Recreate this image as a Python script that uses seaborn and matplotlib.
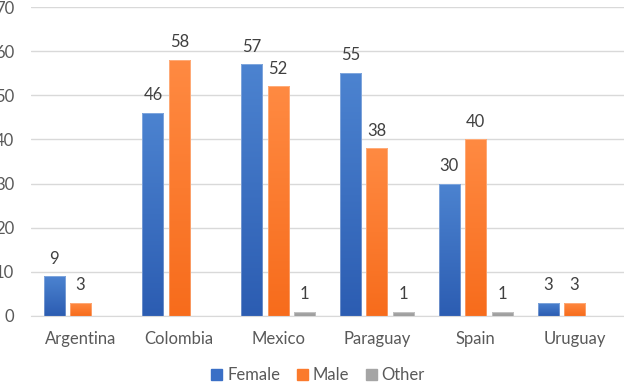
import pandas as pd
import numpy as np
import matplotlib.pyplot as plt
import matplotlib.colors as mcolors
import seaborn as sns

countries = ['Argentina', 'Colombia', 'Mexico', 'Paraguay', 'Spain', 'Uruguay']
female = [9, 46, 57, 55, 30, 3]
male = [3, 58, 52, 38, 40, 3]
other = [0, 0, 1, 1, 1, 0]
genders = ['Female', 'Male', 'Other']

df = pd.DataFrame({
    'country': countries * 3,
    'gender': np.repeat(genders, len(countries)),
    'count': female + male + other,
})

sns.set_style('white')
plt.rcParams['font.family'] = ['Lato', 'DejaVu Sans']

colors = {'Female': '#3a6fc6', 'Male': '#fb7a2c', 'Other': '#a5a5a5'}
# top / bottom colours for the gradient fill
grad = {'Female': ('#4c83d0', '#2c5db2'),
        'Male': ('#ff8a42', '#f76c1c'),
        'Other': ('#b0b0b0', '#9a9a9a')}
text_col = '#595959'

fig = plt.figure(figsize=(6.24, 3.88), dpi=100)
ax = fig.add_axes([31/624, 1 - 316/388, 1 - 31/624, (316 - 7)/388])

sns.barplot(data=df, x='country', y='count', hue='gender', palette=colors,
            width=0.8, gap=0.2, ax=ax, legend=False, saturation=1)

ax.set_ylim(0, 70)
ax.set_xlim(-0.5, 5.5)

# gradient fill on every bar
for g, cont in zip(genders, ax.containers):
    cmap = mcolors.LinearSegmentedColormap.from_list(g, [grad[g][1], grad[g][0]])
    for p in cont.patches:
        h = p.get_height()
        if h <= 0:
            continue
        x0 = p.get_x()
        w = p.get_width()
        p.set_facecolor('none')
        p.set_edgecolor((1, 1, 1, 0.35))
        p.set_linewidth(0.6)
        img = ax.imshow(np.linspace(0, 1, 100).reshape(-1, 1) * (h / 70),
                        extent=[x0, x0 + w, 0, h], origin='lower', aspect='auto',
                        cmap=cmap, vmin=0, vmax=h / 70, zorder=p.get_zorder() - 0.1)
        img.set_clip_path(p)

for cont in ax.containers:
    labels = [str(int(v)) if v > 0 else '' for v in cont.datavalues]
    ax.bar_label(cont, labels=labels, padding=7, fontsize=12, color='#404040')

ax.set_ylim(0, 70)
ax.set_xlim(-0.5, 5.5)
ax.set_yticks(range(0, 71, 10))
ax.yaxis.grid(True, color='#d9d9d9', linewidth=1)
ax.set_axisbelow(True)
for s in ['top', 'right', 'left']:
    ax.spines[s].set_visible(False)
ax.spines['bottom'].set_color('#d9d9d9')
ax.tick_params(axis='both', length=0, labelsize=12, colors=text_col)
ax.tick_params(axis='y', pad=12)
ax.tick_params(axis='x', pad=11)
ax.set_xlabel('')
ax.set_ylabel('')

handles = [plt.Rectangle((0, 0), 1, 1, color=colors[g]) for g in genders]
fig.legend(handles, genders, loc='center', bbox_to_anchor=(318/624, 1 - 375/388),
           ncol=3, frameon=False, handlelength=0.65, handleheight=0.65,
           handletextpad=0.3, columnspacing=1.0, fontsize=12, labelcolor=text_col)

fig.savefig('out.png', dpi=100)
